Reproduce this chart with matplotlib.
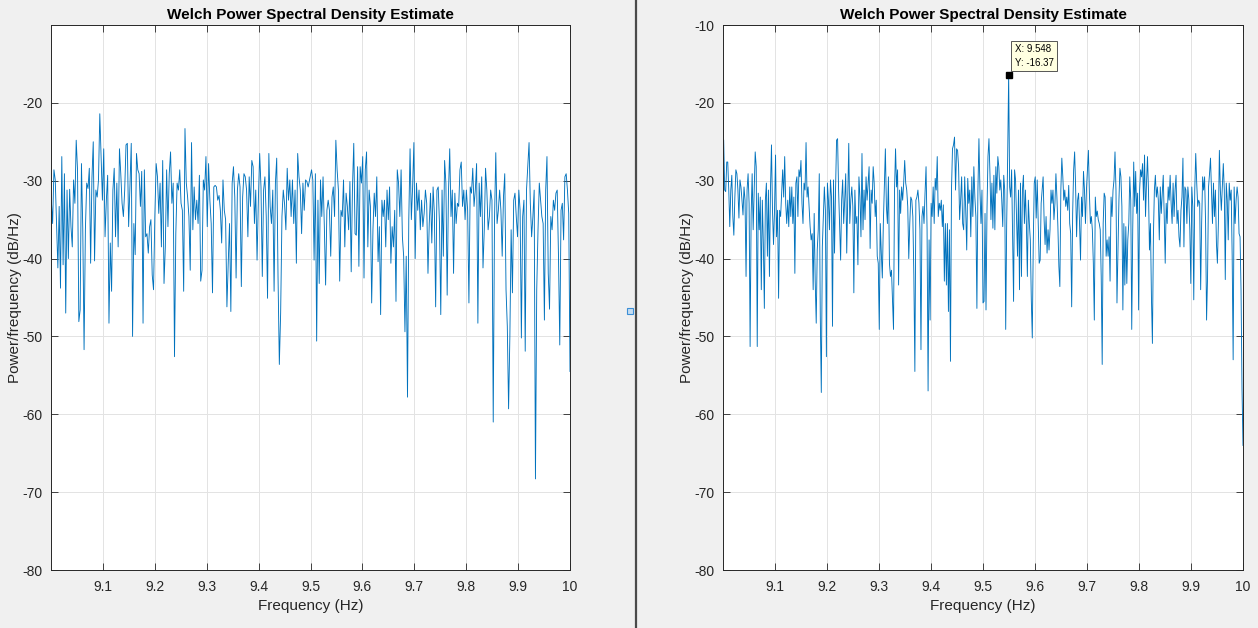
import numpy as np
import matplotlib
matplotlib.use("Agg")
import matplotlib.pyplot as plt
from matplotlib.lines import Line2D

plt.rcParams["font.family"] = ["Liberation Sans", "DejaVu Sans"]
plt.rcParams["axes.unicode_minus"] = False #MATLAB uses a plain hyphen

# Left panel PSD (dB/Hz): 9.0-9.5 Hz then 9.5-10 Hz
psd_left_a = [
    -32.5, -35.5, -28.6, -29.9, -35.7, -41.2, -33.3, -43.8, -26.9, -40.8,
    -29.1, -47.0, -31.2, -40.0, -31.1, -35.9, -38.5, -29.9, -32.9, -24.8,
    -28.6, -48.1, -46.6, -27.8, -36.1, -51.7, -36.3, -30.3, -31.0, -28.4,
    -40.6, -29.7, -25.0, -40.3, -31.2, -32.1, -29.9, -21.4, -26.9, -32.5,
    -25.9, -37.2, -32.5, -29.3, -48.3, -38.0, -44.2, -31.2, -28.4, -37.2,
    -30.3, -38.5, -25.9, -29.1, -32.9, -34.6, -31.2, -25.4, -25.2, -35.9,
    -30.8, -25.2, -50.0, -35.5, -39.5, -26.5, -28.6, -29.1, -33.3, -28.8,
    -48.3, -28.6, -37.2, -36.8, -39.3, -35.9, -35.0, -42.1, -44.0, -34.6,
    -27.8, -29.5, -34.2, -30.3, -38.5, -27.4, -43.2, -38.5, -28.6, -35.9,
    -29.1, -26.3, -32.9, -30.3, -52.6, -36.8, -30.3, -31.2, -28.6, -32.9,
    -33.8, -44.2, -23.3, -30.3, -32.1, -34.6, -41.5, -25.1, -36.3, -30.8,
    -35.0, -32.5, -35.5, -29.3, -42.9, -41.5, -29.9, -31.2, -26.9, -35.9,
    -27.8, -32.5, -35.5, -44.4, -30.8, -30.6, -30.8, -32.5, -31.9, -33.8,
    -38.0, -29.9, -33.8, -35.0, -46.2, -40.6, -35.5, -46.8, -30.3, -28.2,
    -32.1, -42.5, -31.2, -29.1, -30.8, -43.6, -32.1, -29.1, -29.5, -31.2,
    -37.2, -29.5, -33.3, -27.4, -28.2, -35.5, -31.2, -40.2, -32.5, -26.5,
    -30.8, -42.3, -31.2, -29.5, -34.6, -45.1, -26.5, -33.3, -35.5, -31.2,
    -44.2, -30.3, -27.1, -42.3, -53.6, -47.0, -34.6, -31.2, -33.0, -36.3,
    -28.4, -32.5, -29.9, -34.6, -29.9, -35.5, -31.2, -40.6, -26.5, -29.5,
    -31.2, -36.8, -30.3, -33.8, -29.9, -30.1, -30.8,
]
psd_left_b = [
    -28.6, -29.9, -40.2, -29.1, -50.6, -32.5, -43.2, -29.9, -34.6, -29.5,
    -35.9, -43.4, -33.8, -32.5, -33.8, -39.7, -32.1, -30.8, -34.6, -24.8,
    -28.6, -31.2, -42.9, -33.8, -34.6, -29.9, -38.5, -31.6, -33.3, -36.3,
    -30.1, -41.7, -30.8, -25.2, -36.8, -37.0, -28.2, -41.0, -28.2, -30.3,
    -26.9, -42.5, -28.6, -26.3, -38.5, -31.2, -33.3, -45.7, -36.3, -31.6,
    -34.6, -29.5, -40.4, -35.9, -47.2, -32.5, -34.6, -32.5, -38.5, -31.2,
    -35.0, -30.8, -40.6, -35.9, -38.5, -33.8, -45.5, -28.6, -30.3, -34.6,
    -28.6, -37.2, -39.7, -49.4, -39.7, -57.8, -35.0, -25.9, -35.0, -30.8,
    -25.1, -40.0, -30.3, -33.8, -31.2, -36.3, -32.5, -35.9, -34.2, -31.2,
    -32.9, -41.9, -35.5, -31.6, -38.0, -30.8, -34.2, -46.2, -31.2, -30.8,
    -35.5, -47.2, -31.2, -39.7, -27.4, -30.3, -44.7, -31.6, -25.9, -34.6,
    -31.2, -41.9, -31.6, -35.5, -32.9, -33.3, -28.6, -27.6, -33.3, -31.2,
    -35.0, -31.2, -33.8, -45.7, -30.8, -31.6, -28.4, -33.3, -31.2, -27.8,
    -48.3, -30.3, -34.6, -29.5, -41.2, -36.3, -28.4, -31.2, -36.3, -34.6,
    -31.2, -32.5, -61.0, -35.0, -26.4, -35.5, -33.8, -31.2, -33.8, -39.7,
    -32.1, -29.1, -44.0, -48.7, -59.3, -50.0, -36.3, -44.4, -32.5, -31.6,
    -34.6, -37.2, -31.2, -33.8, -50.2, -34.6, -32.5, -51.9, -31.2, -28.2,
    -25.1, -32.9, -37.2, -34.6, -31.2, -68.3, -44.0, -36.3, -30.3, -32.5,
    -34.6, -35.5, -47.9, -31.2, -26.9, -41.9, -46.5, -34.6, -36.3, -32.5,
    -33.8, -31.6, -31.2, -39.7, -51.1, -33.8, -32.9, -37.6, -29.5, -29.1,
    -31.2, -34.2, -54.5,
]

# Right panel PSD (dB/Hz): 9.0-9.5 Hz then 9.5-10 Hz
psd_right_a = [
    -24.8, -31.2, -31.4, -27.6, -27.6, -31.2, -35.9, -31.2, -29.3, -34.6,
    -37.0, -32.1, -28.6, -29.1, -31.2, -34.8, -29.9, -30.8, -32.5, -34.4,
    -30.8, -32.5, -42.3, -31.2, -29.1, -32.9, -51.3, -34.4, -29.1, -36.3,
    -31.2, -26.3, -28.2, -51.3, -31.6, -36.3, -32.1, -44.0, -32.5, -38.0,
    -46.4, -32.5, -30.3, -39.7, -31.2, -42.3, -31.2, -25.4, -33.8, -38.2,
    -33.8, -26.7, -37.2, -33.8, -45.1, -33.8, -34.6, -31.6, -28.6, -32.1,
    -26.9, -32.9, -35.5, -32.5, -35.9, -30.8, -34.6, -30.8, -35.5, -32.1,
    -41.9, -30.3, -29.5, -34.6, -28.6, -29.5, -27.4, -32.9, -35.5, -30.3,
    -31.2, -25.1, -32.1, -30.8, -33.3, -35.9, -37.6, -36.8, -44.0, -34.2,
    -42.9, -48.3, -38.9, -36.3, -29.1, -47.4, -57.2, -38.5, -34.6, -30.8,
    -33.8, -52.6, -30.3, -32.5, -36.3, -29.9, -32.1, -48.7, -29.9, -39.3,
    -31.2, -24.8, -24.6, -31.2, -35.5, -40.2, -32.5, -29.9, -35.5, -32.5,
    -29.1, -39.3, -32.1, -25.2, -35.5, -32.5, -30.8, -33.3, -44.4, -31.2,
    -35.5, -34.6, -40.8, -29.5, -32.1, -37.2, -26.5, -36.3, -31.2, -35.0,
    -29.5, -32.5, -30.3, -28.2, -38.7, -31.2, -32.9, -28.2, -30.3, -34.6,
    -32.5, -39.7, -40.6, -49.1, -35.5, -39.3, -42.5, -35.5, -30.8, -25.9,
    -33.3, -35.5, -29.5, -40.6, -42.3, -41.5, -45.5, -49.1, -31.2, -25.9,
    -30.8, -28.6, -43.4, -31.2, -34.2, -30.8, -32.5, -30.3, -27.4, -30.3,
    -31.2, -33.3, -40.0, -35.5, -32.1, -32.5, -34.6, -42.1, -54.5, -32.5,
    -32.1, -31.2, -32.9, -36.3, -51.7, -34.6, -33.3, -35.5, -31.6, -28.2,
    -36.3, -57.0, -37.6, -47.9, -32.9, -34.6, -30.8, -35.5, -29.7, -31.2,
    -26.9, -34.6, -32.9, -33.8, -32.5, -35.9, -33.1, -42.9, -35.5, -43.4,
    -35.5, -46.8, -36.3, -53.2, -31.2, -25.9, -25.4, -24.4, -31.2, -25.9,
    -26.1, -28.2, -35.0, -32.5, -29.5, -35.5, -36.3, -29.5, -33.8, -38.9,
    -29.7, -32.9, -31.2, -37.2, -29.5, -34.6, -28.2, -32.1, -34.6, -46.4,
    -31.2, -24.6, -31.2, -35.5, -31.2, -45.7,
]
psd_right_b = [
    -45.5, -34.2, -46.6, -33.8, -26.9, -24.6, -29.1, -35.0, -30.3, -36.1,
    -29.3, -36.3, -28.2, -31.6, -26.9, -28.2, -31.2, -29.9, -32.5, -35.9,
    -29.3, -31.2, -49.1, -35.5, -26.9, -16.37, -30.8, -32.1, -28.6, -37.2,
    -45.5, -28.6, -29.9, -34.6, -39.7, -31.2, -44.0, -30.3, -42.3, -31.2,
    -29.3, -35.5, -31.2, -35.5, -42.3, -32.5, -35.5, -37.6, -45.3, -50.2,
    -38.0, -30.3, -29.5, -34.8, -29.9, -35.0, -40.6, -40.2, -32.9, -31.2,
    -29.5, -35.0, -38.2, -34.6, -39.3, -36.3, -38.9, -36.3, -31.2, -32.9,
    -31.2, -35.0, -32.9, -29.1, -32.1, -35.9, -41.0, -43.6, -31.2, -27.1,
    -29.5, -32.5, -31.2, -33.3, -32.1, -33.8, -30.6, -35.5, -36.8, -46.2,
    -34.2, -28.6, -26.3, -30.8, -37.2, -32.5, -31.6, -35.5, -40.2, -32.1,
    -34.6, -28.8, -31.2, -35.5, -31.2, -28.6, -26.1, -31.6, -35.5, -34.6,
    -36.3, -40.6, -47.9, -32.1, -34.6, -33.9, -35.0, -35.5, -36.3, -42.3,
    -53.6, -35.5, -31.6, -32.1, -39.7, -37.6, -39.7, -37.2, -42.9, -32.1,
    -34.6, -31.2, -29.9, -26.3, -31.2, -45.7, -38.9, -32.5, -28.4, -29.5,
    -33.3, -46.6, -35.5, -43.4, -35.9, -43.2, -37.6, -35.5, -29.5, -32.5,
    -49.1, -36.3, -27.6, -33.3, -28.8, -34.2, -31.6, -46.6, -31.2, -28.6,
    -29.5, -27.8, -32.5, -26.7, -34.6, -30.3, -26.9, -31.2, -38.9, -35.5,
    -44.9, -50.9, -37.2, -31.2, -29.3, -32.1, -30.8, -32.5, -37.6, -30.8,
    -34.2, -31.6, -29.3, -34.6, -40.6, -32.9, -35.5, -30.8, -32.5, -29.3,
    -32.9, -35.5, -30.3, -34.6, -31.2, -29.3, -35.5, -33.8, -37.2, -38.5,
    -33.8, -32.1, -27.1, -38.5, -30.8, -31.2, -35.5, -30.8, -32.5, -36.3,
    -43.2, -30.8, -33.3, -45.3, -31.2, -26.5, -30.3, -33.3, -32.5, -32.9,
    -44.0, -35.5, -29.5, -31.2, -29.5, -35.5, -47.9, -42.3, -30.8, -29.1,
    -27.1, -31.2, -35.5, -30.3, -34.6, -31.2, -38.0, -40.6, -35.5, -26.1,
    -31.2, -33.8, -30.8, -27.8, -31.2, -42.7, -30.3, -32.5, -37.6, -30.3,
    -32.5, -31.2, -39.7, -53.0, -30.8, -35.5, -32.5, -30.8, -32.1, -36.8,
    -37.2, -44.0, -56.8, -64.0,
]

x_ticks = [9.1, 9.2, 9.3, 9.4, 9.5, 9.6, 9.7, 9.8, 9.9, 10.0]
x_tick_labels = ["9.1", "9.2", "9.3", "9.4", "9.5", "9.6", "9.7", "9.8", "9.9", "10"]
y_ticks_left = [-80, -70, -60, -50, -40, -30, -20]
y_ticks_right = [-80, -70, -60, -50, -40, -30, -20, -10]
tip_label = "X: 9.548\nY: -16.37"

#Frequency bins are evenly spaced inside each half
freq_left = np.concatenate([np.linspace(9.0006, 9.4955, len(psd_left_a)),
                            np.linspace(9.502, 10.0, len(psd_left_b))])
freq_right = np.concatenate([np.linspace(9.0013, 9.5, len(psd_right_a)),
                             np.linspace(9.502, 10.0, len(psd_right_b))])
psd_left = np.array(psd_left_a + psd_left_b)
psd_right = np.array(psd_right_a + psd_right_b)

W, H = 1258, 628
fig = plt.figure(figsize=(W / 100, H / 100), dpi=100, facecolor="#f0f0f0")
ax1 = fig.add_axes([51 / W, 58 / H, 519 / W, 545 / H])
ax2 = fig.add_axes([723 / W, 58 / H, 520 / W, 545 / H])

def style(ax, yticks):
    ax.set_facecolor("white")
    ax.set_xlim(9.0, 10.0)
    ax.set_ylim(-80, -10)
    ax.set_xticks(x_ticks)
    ax.set_xticklabels(x_tick_labels)
    ax.set_yticks(yticks)
    ax.grid(True, color="#e3e3e3", linewidth=0.7)
    ax.set_axisbelow(True)
    ax.tick_params(direction="in", top=True, right=True, length=5, width=0.6,
                   color="#262626", labelcolor="#262626", labelsize=10)
    ax.tick_params(axis="x", pad=7)
    ax.tick_params(axis="y", pad=6)
    for s in ax.spines.values():
        s.set_color("#262626")
        s.set_linewidth(0.7)
    ax.set_title("Welch Power Spectral Density Estimate", fontweight="bold", fontsize=11, pad=4)
    ax.set_xlabel("Frequency (Hz)", fontsize=11, color="#262626", labelpad=4)
    ax.set_ylabel("Power/frequency (dB/Hz)", fontsize=11, color="#262626", labelpad=0)

ax1.plot(freq_left, psd_left, color="#0072bd", linewidth=0.65)
style(ax1, y_ticks_left)

ax2.plot(freq_right, psd_right, color="#0072bd", linewidth=0.65)
style(ax2, y_ticks_right)

#Data tip on the spike
i = int(np.argmax(psd_right))
ax2.plot(freq_right[i], psd_right[i], marker="s", color="black", markersize=5, zorder=5)
ax2.annotate(tip_label, xy=(freq_right[i], psd_right[i]), xytext=(6, 7), textcoords="offset pixels",
             ha="left", va="bottom", fontsize=7, linespacing=1.4, zorder=6,
             bbox=dict(boxstyle="square,pad=0.35", fc="#ffffe1", ec="#555555", lw=0.7))

#Window divider and the little handle
fig.add_artist(Line2D([635.5 / W, 635.5 / W], [0, 1], transform=fig.transFigure, color="#4a4a4a", linewidth=1.6))
fig.add_artist(Line2D([630 / W], [1 - 311 / H], transform=fig.transFigure, marker="s", markersize=4,
                      markerfacecolor="#c5ddf2", markeredgecolor="#3c8fd6", markeredgewidth=0.8, linestyle="none"))

fig.savefig("out.png", dpi=100, facecolor=fig.get_facecolor())
